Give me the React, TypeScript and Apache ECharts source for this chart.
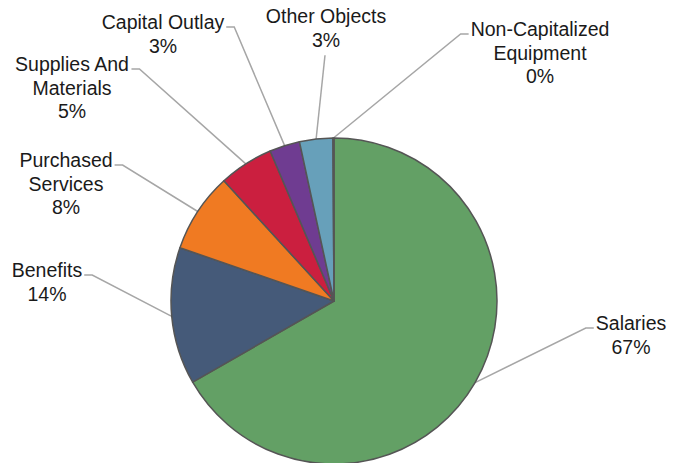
import React, { useEffect, useRef } from "react";
import * as echarts from "echarts";

const categories = [
  "Salaries",
  "Benefits",
  "Purchased Services",
  "Supplies And Materials",
  "Capital Outlay",
  "Other Objects",
  "Non-Capitalized Equipment",
];
const labelNames = [
  "Salaries",
  "Benefits",
  "Purchased\nServices",
  "Supplies And\nMaterials",
  "Capital Outlay",
  "Other Objects",
  "Non-Capitalized\nEquipment",
];
const values = [66.7, 13.6, 7.9, 5.4, 3.0, 3.3, 0.1];
const colors = ["#63a065", "#455a79", "#f07a22", "#cb1f3f", "#6f3c91", "#67a0ba", "#9a9a9a"];

// label placement: [center x, first-line center y, side where leader line attaches]
const labelPlacement: [number, number, string][] = [
  [631, 323, "left"],
  [47, 270, "right"],
  [66, 160, "right"],
  [72, 64, "right"],
  [163, 22, "right"],
  [326, 16, "bottom"],
  [540, 29, "left"],
];

const FONT_SIZE = 19.5;
const LINE_H = 23.5;

export default function App() {
  const ref = useRef<HTMLDivElement>(null);
  useEffect(() => {
    if (!ref.current) return;
    const chart = echarts.init(ref.current, undefined, { renderer: "svg" });
    chart.setOption({
      animation: false,
      backgroundColor: "#ffffff",
      series: [
        {
          type: "pie",
          center: [334, 301],
          radius: 163,
          startAngle: 90,
          clockwise: true,
          avoidLabelOverlap: false,
          itemStyle: { borderColor: "#555555", borderWidth: 1.5 },
          label: {
            show: true,
            color: "#1a1a1a",
            fontFamily: "'Liberation Sans', Arial, sans-serif",
            fontSize: FONT_SIZE,
            lineHeight: LINE_H,
            align: "center",
            formatter: (p: any) => labelNames[p.dataIndex] + "\n" + Math.round(p.percent) + "%",
          },
          labelLine: {
            show: true,
            length: 10,
            length2: 10,
            lineStyle: { color: "#a6a6a6", width: 1.5 },
          },
          labelLayout: (params: any) => {
            const i = params.dataIndex;
            const [cx, cy, side] = labelPlacement[i];
            const top = cy - LINE_H / 2;
            const w = params.labelRect.width;
            const h = params.labelRect.height;
            const p0 = params.labelLinePoints ? params.labelLinePoints[0] : [334, 301];
            let pts: number[][];
            if (side === "left") {
              const ax = cx - w / 2 - 2;
              const ay = cy + 5;
              pts = [p0, [ax - 8, ay], [ax, ay]];
            } else if (side === "right") {
              const ax = cx + w / 2 + 2;
              const ay = cy + 5;
              pts = [p0, [ax + 8, ay], [ax, ay]];
            } else {
              const ay = top + h + 4;
              pts = [p0, [cx - 1, ay], [cx - 1, ay]];
            }
            return {
              x: cx,
              y: top,
              align: "center",
              verticalAlign: "top",
              labelLinePoints: pts,
            };
          },
          data: categories.map((name, i) => ({
            name,
            value: values[i],
            itemStyle: { color: colors[i] },
          })),
        },
      ],
    });
    return () => chart.dispose();
  }, []);
  return (
    <div
      ref={ref}
      style={{ position: "fixed", left: 0, top: 0, width: 675, height: 463 }}
    />
  );
}
